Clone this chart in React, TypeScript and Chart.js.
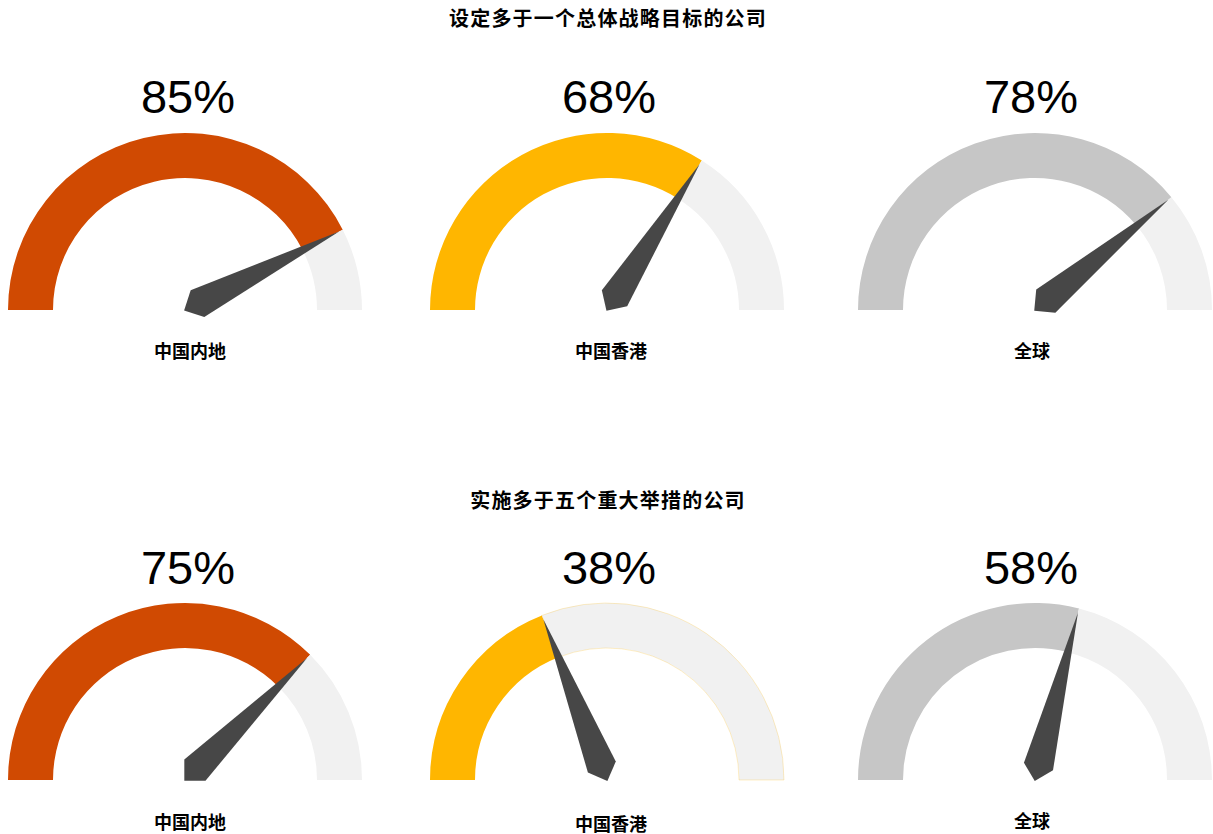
import React, { useEffect, useRef } from 'react';
import { Chart, registerables } from 'chart.js';

Chart.register(...registerables);

// ---------- data ----------
const sectionTitles = ['设定多于一个总体战略目标的公司', '实施多于五个重大举措的公司'];
const regions = ['中国内地', '中国香港', '全球'];
const strategyGoalShares = [85, 68, 78];
const majorInitiativeShares = [75, 38, 58];
const gaugeMax = 100;

// ---------- styles ----------
const fillColors = ['#D04A02', '#FFB600', '#C6C6C6'];
const trackColor = '#F1F1F1';
const needleColor = '#474747';
const CJK = '"Noto Sans CJK SC", "Noto Sans", sans-serif';
const LATIN = '"Liberation Sans", Arial, sans-serif';

// ---------- layout ----------
const RADIUS = 177;
const CUTOUT = 132;
const CANVAS_W = 360;
const CANVAS_H = 200;
const PAD = 3;
const gaugeCentersX = [185, 606.5, 1035];
const rowCenterY = [310, 780];
const titleCenterY = [18, 500];
const titleCenterX = 608;
const percentCentersX = [188, 609, 1031];
const percentBaseline = [112, 583];
const labelCentersX = [190, 611, 1032];
const labelCenterY = [[350, 350, 350], [821, 823, 820]];

const needlePlugin = {
  id: 'gaugeNeedle',
  afterDatasetsDraw(chart: any) {
    const arc = chart.getDatasetMeta(0).data[0];
    if (!arc) return;
    const { x, y, outerRadius, endAngle } = arc.getProps(['x', 'y', 'outerRadius', 'endAngle'], true);
    const dx = Math.cos(endAngle);
    const dy = Math.sin(endAngle);
    const px = -dy;
    const py = dx;
    const ctx = chart.ctx;
    const tipR = outerRadius - 4;
    ctx.save();
    ctx.beginPath();
    ctx.moveTo(x + dx * tipR, y + dy * tipR);
    ctx.lineTo(x + dx * 14 + px * 15, y + dy * 14 + py * 15);
    ctx.lineTo(x - dx * 1, y - dy * 1);
    ctx.lineTo(x + dx * 14 - px * 15, y + dy * 14 - py * 15);
    ctx.closePath();
    ctx.fillStyle = needleColor;
    ctx.fill();
    ctx.restore();
  },
};

function Gauge(props: { value: number; color: string; label: string; cx: number; cy: number; outlined: boolean }) {
  const ref = useRef<HTMLCanvasElement | null>(null);
  useEffect(() => {
    if (!ref.current) return;
    const chart = new Chart(ref.current, {
      type: 'doughnut',
      data: {
        labels: [props.label, ''],
        datasets: [
          {
            data: [props.value, gaugeMax - props.value],
            backgroundColor: [props.color, trackColor],
            borderColor: [props.color, props.outlined ? 'rgba(255,182,0,0.22)' : trackColor],
            borderWidth: [0, props.outlined ? 1 : 0],
            hoverOffset: 0,
            offset: 0,
          } as any,
        ],
      },
      options: {
        responsive: false,
        animation: false,
        rotation: -90,
        circumference: 180,
        cutout: `${(CUTOUT / RADIUS) * 100}%`,
        radius: RADIUS,
        events: [],
        layout: { padding: { left: PAD, right: PAD, top: PAD, bottom: CANVAS_H - PAD - RADIUS } },
        plugins: {
          legend: { display: false },
          tooltip: { enabled: false },
          title: { display: false },
        },
      } as any,
      plugins: [needlePlugin],
    });
    return () => chart.destroy();
  }, [props.value, props.color, props.label, props.outlined]);

  return (
    <canvas
      ref={ref}
      width={CANVAS_W}
      height={CANVAS_H}
      style={{
        position: 'absolute',
        left: props.cx - (PAD + RADIUS),
        top: props.cy - (PAD + RADIUS),
        width: CANVAS_W,
        height: CANVAS_H,
        display: 'block',
      }}
    />
  );
}

export default function App() {
  const rows = [strategyGoalShares, majorInitiativeShares];
  return (
    <div style={{ position: 'absolute', left: 0, top: 0, width: 1213, height: 834, background: '#fff', overflow: 'hidden' }}>
      {rows.map((values, r) => (
        <React.Fragment key={r}>
          <div
            style={{
              position: 'absolute',
              left: titleCenterX,
              top: titleCenterY[r],
              transform: 'translate(-50%, -50%)',
              fontFamily: CJK,
              fontWeight: 700,
              fontSize: 20,
              letterSpacing: 1.2,
              lineHeight: 1,
              whiteSpace: 'nowrap',
              color: '#000',
            }}
          >
            {sectionTitles[r]}
          </div>
          {values.map((v, i) => (
            <React.Fragment key={i}>
              <Gauge
                value={v}
                color={fillColors[i]}
                label={regions[i]}
                cx={gaugeCentersX[i]}
                cy={rowCenterY[r]}
                outlined={r === 1 && i === 1}
              />
              <div
                style={{
                  position: 'absolute',
                  left: percentCentersX[i],
                  top: percentBaseline[r] - 39,
                  transform: 'translateX(-50%)',
                  fontFamily: LATIN,
                  fontSize: 47,
                  lineHeight: '47px',
                  whiteSpace: 'nowrap',
                  color: '#000',
                }}
              >
                {v}%
              </div>
              <div
                style={{
                  position: 'absolute',
                  left: labelCentersX[i],
                  top: labelCenterY[r][i],
                  transform: 'translate(-50%, -50%)',
                  fontFamily: CJK,
                  fontWeight: 700,
                  fontSize: 18,
                  lineHeight: 1,
                  whiteSpace: 'nowrap',
                  color: '#000',
                }}
              >
                {regions[i]}
              </div>
            </React.Fragment>
          ))}
        </React.Fragment>
      ))}
    </div>
  );
}
